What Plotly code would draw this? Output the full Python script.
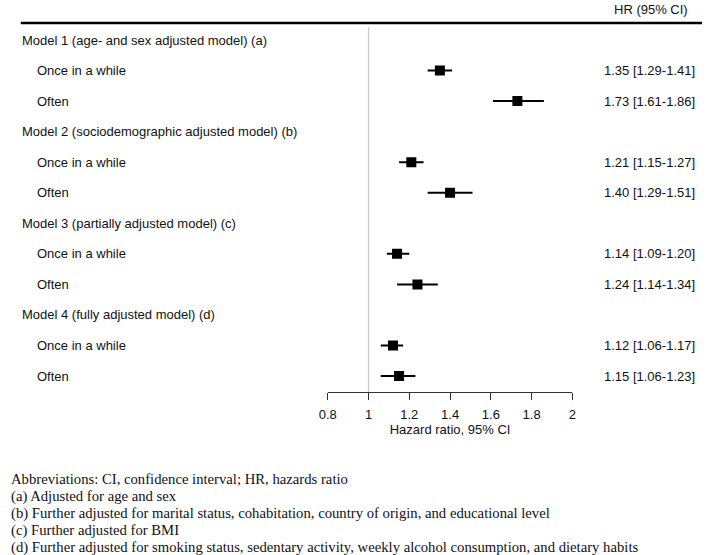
import plotly.graph_objects as go

# ---- data ----
row_labels = [
    "Model 1 (age- and sex adjusted model) (a)", "Once in a while", "Often",
    "Model 2 (sociodemographic adjusted model) (b)", "Once in a while", "Often",
    "Model 3 (partially adjusted model) (c)", "Once in a while", "Often",
    "Model 4 (fully adjusted model) (d)", "Once in a while", "Often",
]
is_header = [True, False, False, True, False, False, True, False, False, True, False, False]
hr = [None, 1.35, 1.73, None, 1.21, 1.40, None, 1.14, 1.24, None, 1.12, 1.15]
ci_low = [None, 1.29, 1.61, None, 1.15, 1.29, None, 1.09, 1.14, None, 1.06, 1.06]
ci_high = [None, 1.41, 1.86, None, 1.27, 1.51, None, 1.20, 1.34, None, 1.17, 1.23]
hr_text = ["", "1.35 [1.29-1.41]", "1.73 [1.61-1.86]", "", "1.21 [1.15-1.27]", "1.40 [1.29-1.51]",
           "", "1.14 [1.09-1.20]", "1.24 [1.14-1.34]", "", "1.12 [1.06-1.17]", "1.15 [1.06-1.23]"]
x_ticks = [0.8, 1, 1.2, 1.4, 1.6, 1.8, 2]
x_tick_labels = ["0.8", "1", "1.2", "1.4", "1.6", "1.8", "2"]
footnotes = [
    "Abbreviations: CI, confidence interval; HR, hazards ratio",
    "(a) Adjusted for age and sex",
    "(b) Further adjusted for marital status, cohabitation, country of origin, and educational level",
    "(c) Further adjusted for BMI",
    "(d) Further adjusted for smoking status, sedentary activity, weekly alcohol consumption, and dietary habits",
]

W, H = 706, 555
SANS = "Liberation Sans, Arial, sans-serif"
SERIF = "Liberation Serif, Times New Roman, serif"
TXT = "#111"

rows = list(range(len(row_labels)))
px = [i for i in rows if hr[i] is not None]

fig = go.Figure()

# reference line at HR = 1
fig.add_trace(go.Scatter(
    x=[1, 1], y=[-0.42, 11.52], mode="lines",
    line=dict(color="#c8c8c8", width=1.3), hoverinfo="skip", showlegend=False))

fig.add_trace(go.Scatter(
    x=[hr[i] for i in px], y=px, mode="markers",
    marker=dict(symbol="square", size=10, color="black"),
    error_x=dict(type="data", symmetric=False,
                 array=[ci_high[i] - hr[i] for i in px],
                 arrayminus=[hr[i] - ci_low[i] for i in px],
                 thickness=2, width=0, color="black"),
    showlegend=False))

x0 = 324.7 / W
x1 = 574.0 / W
y_bot = 392.0
y_top = 0.0
rule_y = 23.0

annotations = []
for i, lab in enumerate(row_labels):
    annotations.append(dict(
        x=(11 if is_header[i] else 26) / W, xref="paper", y=i, yref="y",
        text=lab, showarrow=False, xanchor="left", yanchor="middle",
        font=dict(family=SANS, size=13, color=TXT)))
    if hr_text[i]:
        annotations.append(dict(
            x=701 / W, xref="paper", y=i, yref="y",
            text=hr_text[i], showarrow=False, xanchor="right", yanchor="middle",
            font=dict(family=SANS, size=13, color=TXT)))

annotations.append(dict(
    x=694 / W, xref="paper", y=1 - 9 / H, yref="paper", text="HR (95% CI)",
    showarrow=False, xanchor="right", yanchor="middle",
    font=dict(family=SANS, size=13, color=TXT)))

for k, t in enumerate(footnotes):
    yy = 479.5 + k * 17.0
    annotations.append(dict(
        x=0, xref="paper", y=1 - yy / H, yref="paper", text=t,
        showarrow=False, xanchor="left", yanchor="middle",
        font=dict(family=SERIF, size=14.7, color=TXT)))

fig.update_layout(
    width=W, height=H,
    margin=dict(l=0, r=0, t=0, b=0),
    paper_bgcolor="white", plot_bgcolor="rgba(0,0,0,0)",
    xaxis=dict(
        domain=[x0, x1], range=[0.8, 2], tickvals=x_ticks, ticktext=x_tick_labels,
        showline=True, linecolor="#333", linewidth=1,
        ticks="outside", ticklen=7, tickcolor="#333", tickwidth=1,
        ticklabelstandoff=3,
        showgrid=False, zeroline=False,
        tickfont=dict(family=SANS, size=13, color=TXT),
        title=dict(text="Hazard ratio, 95% CI", standoff=3,
                   font=dict(family=SANS, size=13, color=TXT)),
        anchor="y",
    ),
    yaxis=dict(
        domain=[1 - y_bot / H, 1 - y_top / H],
        range=[(y_bot - 40) / 30.55, (y_top - 40) / 30.55],
        visible=False, showgrid=False, zeroline=False,
    ),
    annotations=annotations,
    shapes=[dict(type="line", xref="paper", yref="paper", layer="above",
                 x0=12 / W, x1=1, y0=1 - rule_y / H, y1=1 - rule_y / H,
                 line=dict(color="black", width=2.5))],
)

fig.write_html(
    "out.html",
    config={"displayModeBar": False},
    post_script="document.body.style.margin='0';document.body.style.overflow='hidden';"
                "document.documentElement.style.overflow='hidden';",
)
